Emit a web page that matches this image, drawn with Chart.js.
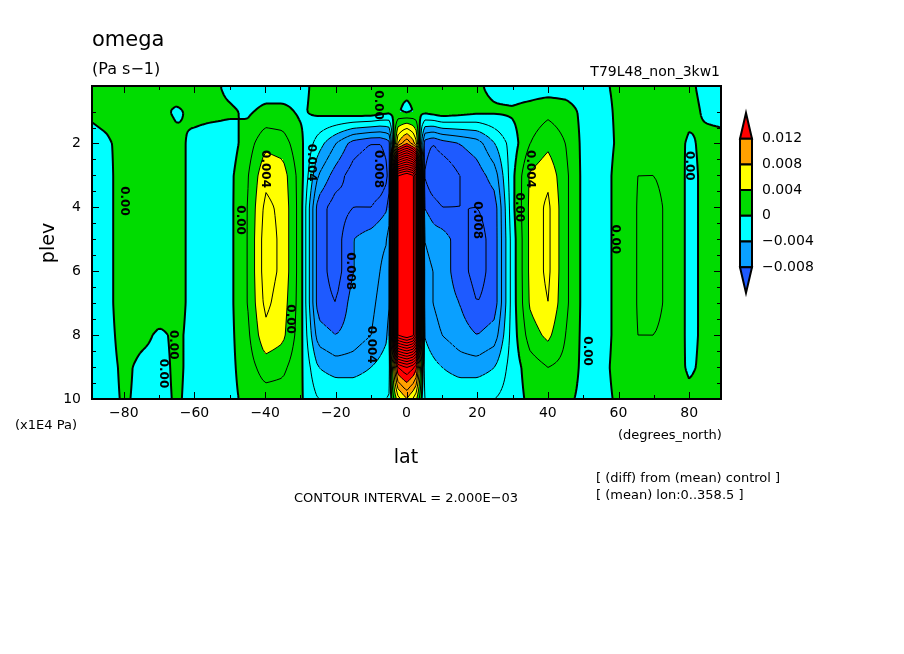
<!DOCTYPE html>
<html>
<head>
<meta charset="utf-8">
<script src="https://cdn.jsdelivr.net/npm/chart.js@4.4.1/dist/chart.umd.min.js"></script>
<style>
  html, body { margin: 0; padding: 0; background: #fff; }
  #wrap { width: 904px; height: 654px; }
</style>
</head>
<body>
<div id="wrap"><canvas id="omegaChart" width="904" height="654"></canvas></div>
<script>
// grid, omega in units of 1e-3 Pa s-1
const lats = [-89, -85, -80, -75, -70, -65, -60, -55, -50, -45, -40, -35, -30,
  -25, -20, -15, -10, -7.5, -5, -2.5, 0, 2.5, 5, 7.5, 10, 15, 20, 25,
  30, 35, 40, 45, 50, 55, 60, 65, 70, 75, 80, 85, 89];
const plevs = [0.25, 1, 2, 3, 4, 5, 6, 7, 8, 9, 10];
const omega = [
  [0.3, 1, 1, 0.5, 0.3, 1, 1, 0.5, -0.5, -1, -1, -1, -0.5,
   0.5, 1, 1, 0.5, 0.5, 0.3, 0.5, 0.5, 0.5, 0.5, 0.5, 0.5, 0.5, 0.3, -0.5,
   -1, -1, -1, -1, -1, -0.5, 0.5, 1, 1, 0.5, 0.3, -0.5, -0.5],
  [0.5, 1, 1.5, 1, 0.5, -0.3, 0.5, 0.5, 0.3, -0.3, 0.5, 0.5, -0.3,
   0.5, 1, 1.5, 1.5, 1, 0.5, 0.2, -0.5, 0.2, 0.5, 1, 1.5, 1, 0.5, 0.3,
   0.3, 0.8, 1.5, 1, -0.5, -1, 0.5, 1, 1, 1, 0.5, -0.3, -0.5],
  [-1, -0.5, 1, 1.5, 1, 0.5, -0.5, -1, -1, 1, 3.5, 3, 0.5,
   -3, -6, -9, -10, -10, -9, 8, 12, 8, -9, -10, -9, -8, -7, -4,
   -1, 2, 3.5, 2, -0.5, -1.5, 0.5, 1.5, 1.5, 1, -0.3, 0.5, 0.5],
  [-1, -1, 1.5, 1.5, 1.5, 0.5, -0.5, -1, -0.5, 1.8, 5.5, 5, 1,
   -6, -9, -11, -12, -12, -10, 38, 40, 38, -10, -12, -12, -10, -9, -7,
   -0.5, 4.3, 5.5, 2.5, -0.5, -1.5, 1, 2, 2, 1.5, -0.5, 0.5, 0.5],
  [-1, -1, 1.5, 2, 1.5, 0.5, -0.5, -1, -0.5, 2, 6.5, 5.5, 1,
   -9, -11, -10, -10, -9, -8, 38, 40, 38, -8, -9, -10, -10, -10, -9,
   -0.5, 4.5, 6.5, 2.5, -0.5, -1.5, 1, 2, 2.5, 1.5, -0.5, 0.5, 0.5],
  [-1, -1, 1.5, 2, 1.5, 0.5, -0.5, -1, -0.5, 2, 7, 5.5, 1,
   -9, -11, -8, -7, -6.5, -6, 38, 40, 38, -6, -7, -7, -9, -11, -9,
   -1, 4.5, 6.5, 2.5, -0.5, -1.5, 1, 2, 2.5, 1.5, -0.5, 0.5, 0.5],
  [-1, -1, 1.5, 2, 1.5, 0.5, -0.5, -1, -0.5, 2, 7, 5.5, 1,
   -9, -11, -8, -7, -6, -5, 38, 40, 38, -5, -6, -7, -9, -11, -9,
   -1, 4.5, 6.5, 2.5, -0.5, -1.5, 1, 2, 2.5, 1.5, -0.5, 0.5, 0.5],
  [-1, -1, 1.5, 1.5, 1, 0.5, -0.5, -1, -0.5, 2, 6.5, 5, 1,
   -9, -10, -7, -6.5, -5.5, -5, 38, 40, 38, -5, -6, -7, -8, -10, -9,
   -1, 4.3, 6, 2.5, -0.5, -1.5, 1, 2, 2.5, 1.5, -0.5, 0.5, 0.5],
  [-1, -1, 1, 0.5, -0.3, 0.3, -0.5, -1, -0.5, 1.5, 5.5, 4.5, 0.8,
   -7, -8, -7, -6, -5, -4, 38, 40, 38, -4, -5, -6, -7, -8, -7,
   -1, 3, 4.5, 2, -0.5, -1.5, 1, 2, 2, 1.5, -0.5, 0.5, 0.5],
  [-1, -1, 0.5, -0.5, -0.5, 0.3, -0.5, -1, -0.5, 1, 3, 2.5, 0.5,
   -4, -5, -5, -4, -3.5, -3, 14, 16, 14, -3, -3.5, -4, -5, -5, -4,
   -1, 1, 2, 1.5, -0.5, -1, 1, 1.5, 1.5, 1, -0.3, 0.5, 0.5],
  [-1, -1, 0.3, -0.5, -0.5, 0.2, -0.5, -1, -0.5, 0.5, 1, 1, 0.3,
   -2, -2, -2, -2, -2, -2, 5, 8, 5, -2, -2, -2, -2, -2, -2,
   -1, 0.5, 1, 0.5, -0.5, -1, 0.5, 1, 1, 1, 0.5, 0.5, 0.5]
];
const fillLevels = [-8, -4, 0, 4, 8, 12];
const fillColors = ['#1e5aff', '#0aa0ff', '#00ffff', '#00dc00', '#ffff00', '#ffa000', '#ff0000'];
const barLabels = ['0.012', '0.008', '0.004', '0', '\u22120.004', '\u22120.008'];
const latTicks = [-80, -60, -40, -20, 0, 20, 40, 60, 80];
const plevTicks = [2, 4, 6, 8, 10];
const contourStep = 2;
// contour labels: text, lat, plev
const contourLabels = [
  ['0.00', -80, 3.8], ['0.00', -66, 8.3], ['0.00', -69, 9.2],
  ['0.00', -47, 4.4], ['0.004', -40, 2.8], ['0.00', -33, 7.5],
  ['0.004', -27, 2.6], ['0.008', -16, 6.0], ['0.004', -10, 8.3],
  ['0.008', -8, 2.8], ['0.00', -8, 0.8],
  ['0.004', 35, 2.8], ['0.00', 32, 4.0], ['0.008', 20, 4.4],
  ['0.00', 59, 5.0], ['0.00', 51, 8.5], ['0.00', 80, 2.7]
];

function findIdx(arr, v) {
  if (v <= arr[0]) return [0, 0];
  for (let i = 0; i < arr.length - 1; i++) {
    if (v <= arr[i + 1]) return [i, (v - arr[i]) / (arr[i + 1] - arr[i])];
  }
  return [arr.length - 2, 1];
}
function valueAt(lat, p) {
  const [i, fx] = findIdx(lats, lat);
  const [j, fy] = findIdx(plevs, p);
  const a = omega[j][i], b = omega[j][i + 1], c = omega[j + 1][i], d = omega[j + 1][i + 1];
  return (a * (1 - fx) + b * fx) * (1 - fy) + (c * (1 - fx) + d * fx) * fy;
}
function hexRgb(h) {
  return [parseInt(h.slice(1, 3), 16), parseInt(h.slice(3, 5), 16), parseInt(h.slice(5, 7), 16)];
}

const fieldPlugin = {
  id: 'field',
  beforeDatasetsDraw(chart) {
    const ctx = chart.ctx, area = chart.chartArea;
    const xs = chart.scales.x, ys = chart.scales.y;
    const w = Math.round(area.right - area.left), h = Math.round(area.bottom - area.top);
    const img = ctx.createImageData(w, h);
    const rgb = fillColors.map(hexRgb);
    for (let py = 0; py < h; py++) {
      const p = ys.getValueForPixel(area.top + py + 0.5);
      for (let px = 0; px < w; px++) {
        const v = valueAt(xs.getValueForPixel(area.left + px + 0.5), p);
        let k = 0;
        while (k < fillLevels.length && v >= fillLevels[k]) k++;
        const o = (py * w + px) * 4;
        img.data[o] = rgb[k][0]; img.data[o + 1] = rgb[k][1]; img.data[o + 2] = rgb[k][2]; img.data[o + 3] = 255;
      }
    }
    ctx.putImageData(img, Math.round(area.left), Math.round(area.top));

    // contour lines, marching squares on a fine sampling of the field
    const step = 3;
    const nx = Math.ceil(w / step) + 1, ny = Math.ceil(h / step) + 1;
    const g = [];
    for (let j = 0; j < ny; j++) {
      const row = [];
      const p = ys.getValueForPixel(Math.min(area.top + j * step, area.bottom));
      for (let i = 0; i < nx; i++) {
        row.push(valueAt(xs.getValueForPixel(Math.min(area.left + i * step, area.right)), p));
      }
      g.push(row);
    }
    ctx.save();
    ctx.beginPath(); ctx.rect(area.left, area.top, w, h); ctx.clip();
    ctx.strokeStyle = '#000';
    const cx = [[0, 0], [1, 0], [1, 1], [0, 1]];
    for (let lv = -14; lv <= 40; lv += contourStep) {
      ctx.beginPath();
      ctx.lineWidth = lv === 0 ? 2 : 1;
      ctx.setLineDash(lv < 0 ? [3, 2] : []);
      for (let j = 0; j < ny - 1; j++) {
        for (let i = 0; i < nx - 1; i++) {
          const v = [g[j][i], g[j][i + 1], g[j + 1][i + 1], g[j + 1][i]];
          const pts = [];
          for (let e = 0; e < 4; e++) {
            const a = v[e], b = v[(e + 1) % 4];
            if ((a < lv) !== (b < lv)) {
              const t = (lv - a) / (b - a);
              const p0 = cx[e], p1 = cx[(e + 1) % 4];
              pts.push([area.left + (i + p0[0] + (p1[0] - p0[0]) * t) * step,
                        area.top + (j + p0[1] + (p1[1] - p0[1]) * t) * step]);
            }
          }
          for (let q = 0; q + 1 < pts.length; q += 2) {
            ctx.moveTo(pts[q][0], pts[q][1]);
            ctx.lineTo(pts[q + 1][0], pts[q + 1][1]);
          }
        }
      }
      ctx.stroke();
    }
    ctx.setLineDash([]);
    // contour labels
    ctx.fillStyle = '#000';
    ctx.font = 'bold 12px "DejaVu Sans"';
    ctx.textAlign = 'center'; ctx.textBaseline = 'middle';
    contourLabels.forEach(([t, lat, p]) => {
      ctx.save();
      ctx.translate(xs.getPixelForValue(lat), ys.getPixelForValue(p));
      ctx.rotate(Math.PI / 2);
      ctx.fillText(t, 0, 0);
      ctx.restore();
    });
    ctx.restore();
  },
  afterDraw(chart) {
    const ctx = chart.ctx, area = chart.chartArea;
    const xs = chart.scales.x, ys = chart.scales.y;
    ctx.save();
    ctx.strokeStyle = '#000';
    ctx.lineWidth = 2;
    ctx.strokeRect(area.left, area.top, area.right - area.left, area.bottom - area.top);
    // inward tick marks
    ctx.lineWidth = 1;
    ctx.beginPath();
    for (let lat = -80; lat <= 80; lat += 10) {
      const x = Math.round(xs.getPixelForValue(lat)) + 0.5;
      const len = lat % 20 === 0 ? 7 : 4;
      ctx.moveTo(x, area.bottom); ctx.lineTo(x, area.bottom - len);
      ctx.moveTo(x, area.top); ctx.lineTo(x, area.top + len);
    }
    for (let p = 1; p <= 10; p += 0.5) {
      const y = Math.round(ys.getPixelForValue(p)) + 0.5;
      const len = p % 2 === 0 ? 7 : 4;
      ctx.moveTo(area.left, y); ctx.lineTo(area.left + len, y);
      ctx.moveTo(area.right, y); ctx.lineTo(area.right - len, y);
    }
    ctx.stroke();

    ctx.fillStyle = '#000';
    ctx.font = '14px "DejaVu Sans"';
    ctx.textAlign = 'center'; ctx.textBaseline = 'middle';
    latTicks.forEach(t => ctx.fillText(String(t).replace('-', '\u2212'), xs.getPixelForValue(t), 413));
    ctx.textAlign = 'right';
    plevTicks.forEach(t => ctx.fillText(String(t), area.left - 11, ys.getPixelForValue(t)));

    // titles and notes
    ctx.textAlign = 'left'; ctx.textBaseline = 'alphabetic';
    ctx.font = '21px "DejaVu Sans"';
    ctx.fillText('omega', 92, 46);
    ctx.font = '16px "DejaVu Sans"';
    ctx.fillText('(Pa s\u22121)', 92, 74);
    ctx.textAlign = 'right';
    ctx.font = '14px "DejaVu Sans"';
    ctx.fillText('T79L48_non_3kw1', 720, 76);
    ctx.textAlign = 'left';
    ctx.font = '13px "DejaVu Sans"';
    ctx.fillText('(x1E4 Pa)', 15, 429);
    ctx.fillText('(degrees_north)', 618, 439);
    ctx.fillText('[ (diff) from (mean) control ]', 596, 482);
    ctx.fillText('[ (mean) lon:0..358.5 ]', 596, 499);
    ctx.textAlign = 'center';
    ctx.fillText('CONTOUR INTERVAL = 2.000E\u221203', 406, 502);
    ctx.font = '19px "DejaVu Sans"';
    ctx.fillText('lat', 406, 463);
    ctx.save();
    ctx.translate(54, 243); ctx.rotate(-Math.PI / 2);
    ctx.fillText('plev', 0, 0);
    ctx.restore();

    // colour bar
    const bx = 740, bw = 12, top = 113, seg = 25.7;
    for (let k = 0; k < fillColors.length; k++) {
      const c = fillColors[fillColors.length - 1 - k];
      const y0 = top + k * seg;
      ctx.fillStyle = c;
      ctx.beginPath();
      if (k === 0) {
        ctx.moveTo(bx + bw / 2, y0); ctx.lineTo(bx + bw, y0 + seg); ctx.lineTo(bx, y0 + seg);
      } else if (k === fillColors.length - 1) {
        ctx.moveTo(bx, y0); ctx.lineTo(bx + bw, y0); ctx.lineTo(bx + bw / 2, y0 + seg);
      } else {
        ctx.rect(bx, y0, bw, seg);
      }
      ctx.closePath();
      ctx.fill();
      ctx.lineWidth = 2; ctx.strokeStyle = '#000'; ctx.stroke();
    }
    ctx.fillStyle = '#000';
    ctx.font = '14px "DejaVu Sans"';
    ctx.textAlign = 'left'; ctx.textBaseline = 'middle';
    barLabels.forEach((l, k) => ctx.fillText(l, 762, top + (k + 1) * seg));
    ctx.restore();
  }
};

new Chart(document.getElementById('omegaChart'), {
  type: 'scatter',
  data: { datasets: [{ data: [], pointRadius: 0 }] },
  options: {
    responsive: false,
    animation: false,
    devicePixelRatio: 1,
    layout: { padding: { left: 92, right: 183, top: 86, bottom: 255 } },
    plugins: { legend: { display: false }, tooltip: { enabled: false } },
    scales: {
      x: { type: 'linear', min: -89, max: 89, display: false },
      y: { type: 'linear', min: 0.2, max: 10, reverse: true, display: false }
    }
  },
  plugins: [fieldPlugin]
});
</script>
</body>
</html>
